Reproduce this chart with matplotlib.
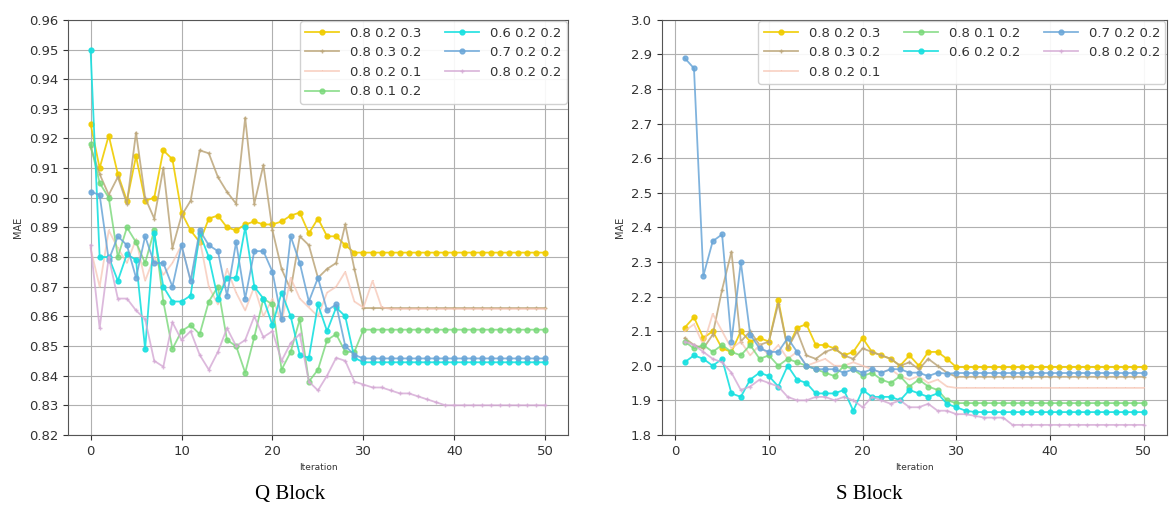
import numpy as np
from matplotlib import pyplot as plt

# Iterations
q_iter = np.arange(0, 51)
s_iter = np.arange(1, 51)

labels = ['0.8 0.2 0.3', '0.8 0.3 0.2', '0.8 0.2 0.1', '0.8 0.1 0.2',
          '0.6 0.2 0.2', '0.7 0.2 0.2', '0.8 0.2 0.2']

# Q Block MAE (first values then flat tail)
q_823 = [0.925, 0.910, 0.921, 0.908, 0.899, 0.914, 0.899, 0.900, 0.916, 0.913,
         0.895, 0.889, 0.885, 0.893, 0.894, 0.890, 0.889, 0.891, 0.892, 0.891,
         0.891, 0.892, 0.894, 0.895, 0.888, 0.893, 0.887, 0.887, 0.884] + [0.8815] * 22
q_832 = [0.917, 0.908, 0.901, 0.907, 0.898, 0.922, 0.900, 0.893, 0.910, 0.883,
         0.894, 0.899, 0.916, 0.915, 0.907, 0.902, 0.898, 0.927, 0.898, 0.911,
         0.889, 0.876, 0.869, 0.887, 0.884, 0.873, 0.876, 0.878, 0.891, 0.876] + [0.8628] * 21
q_821 = [0.883, 0.870, 0.889, 0.883, 0.878, 0.886, 0.872, 0.880, 0.874, 0.878,
         0.884, 0.872, 0.886, 0.870, 0.864, 0.876, 0.868, 0.862, 0.870, 0.860,
         0.866, 0.858, 0.873, 0.866, 0.863, 0.860, 0.868, 0.870, 0.875, 0.865,
         0.863, 0.872, 0.863] + [0.8625] * 18
q_812 = [0.918, 0.905, 0.900, 0.880, 0.890, 0.885, 0.878, 0.889, 0.865, 0.849,
         0.855, 0.857, 0.854, 0.865, 0.870, 0.852, 0.850, 0.841, 0.853, 0.866,
         0.864, 0.842, 0.848, 0.859, 0.838, 0.842, 0.852, 0.854, 0.848, 0.848] + [0.8555] * 21
q_622 = [0.950, 0.880, 0.880, 0.872, 0.881, 0.879, 0.849, 0.888, 0.870, 0.865,
         0.865, 0.867, 0.888, 0.880, 0.866, 0.873, 0.873, 0.890, 0.870, 0.866,
         0.857, 0.868, 0.860, 0.847, 0.846, 0.864, 0.855, 0.863, 0.860, 0.846] + [0.8445] * 21
q_722 = [0.902, 0.901, 0.879, 0.887, 0.884, 0.873, 0.887, 0.878, 0.878, 0.870,
         0.884, 0.872, 0.889, 0.884, 0.882, 0.867, 0.885, 0.866, 0.882, 0.882,
         0.875, 0.859, 0.887, 0.878, 0.865, 0.873, 0.862, 0.864, 0.850, 0.847] + [0.8458] * 21
q_822 = [0.884, 0.856, 0.880, 0.866, 0.866, 0.862, 0.859, 0.845, 0.843, 0.858,
         0.852, 0.855, 0.847, 0.842, 0.848, 0.856, 0.850, 0.852, 0.860, 0.853,
         0.855, 0.845, 0.851, 0.854, 0.838, 0.835, 0.840, 0.846, 0.845, 0.838,
         0.837, 0.836, 0.836, 0.835, 0.834, 0.834, 0.833, 0.832, 0.831] + [0.830] * 12

# S Block MAE
s_823 = [2.11, 2.14, 2.08, 2.10, 2.05, 2.04, 2.10, 2.07, 2.08, 2.07,
         2.19, 2.05, 2.11, 2.12, 2.06, 2.06, 2.05, 2.03, 2.04, 2.08,
         2.04, 2.03, 2.02, 2.00, 2.03, 2.00, 2.04, 2.04, 2.02] + [1.996] * 21
s_832 = [2.08, 2.06, 2.05, 2.09, 2.22, 2.33, 2.07, 2.10, 2.06, 2.07,
         2.18, 2.05, 2.10, 2.03, 2.02, 2.04, 2.05, 2.03, 2.02, 2.05,
         2.04, 2.03, 2.02, 2.00, 2.01, 1.99, 2.02, 2.00, 1.98] + [1.968] * 21
s_821 = [2.10, 2.12, 2.06, 2.15, 2.10, 2.05, 2.07, 2.03, 2.06, 2.03,
         2.06, 2.02, 2.04, 2.00, 2.01, 2.02, 2.00, 2.00, 2.01, 2.00,
         1.99, 1.98, 1.99, 1.97, 1.96, 1.97, 1.95, 1.96, 1.94] + [1.936] * 21
s_812 = [2.07, 2.05, 2.06, 2.04, 2.06, 2.04, 2.03, 2.06, 2.02, 2.03,
         2.00, 2.02, 2.01, 2.00, 1.99, 1.98, 1.97, 2.00, 1.99, 1.97,
         1.98, 1.96, 1.95, 1.97, 1.94, 1.96, 1.94, 1.93, 1.90] + [1.892] * 21
s_622 = [2.01, 2.03, 2.02, 2.00, 2.02, 1.92, 1.91, 1.96, 1.98, 1.97,
         1.94, 2.00, 1.96, 1.95, 1.92, 1.92, 1.92, 1.93, 1.87, 1.93,
         1.91, 1.91, 1.91, 1.90, 1.93, 1.92, 1.91, 1.92, 1.89, 1.88,
         1.87] + [1.866] * 19
s_722 = [2.89, 2.86, 2.26, 2.36, 2.38, 2.07, 2.30, 2.09, 2.05, 2.04,
         2.04, 2.08, 2.04, 2.00, 1.99, 1.99, 1.99, 1.98, 1.99, 1.98,
         1.99, 1.98, 1.99, 1.99, 1.98, 1.98, 1.97, 1.98, 1.977] + [1.979] * 21
s_822 = [2.07, 2.06, 2.04, 2.02, 2.01, 1.98, 1.93, 1.94, 1.96, 1.95,
         1.94, 1.91, 1.90, 1.90, 1.91, 1.91, 1.90, 1.91, 1.90, 1.88,
         1.91, 1.90, 1.89, 1.90, 1.88, 1.88, 1.89, 1.87, 1.87, 1.86,
         1.86, 1.855, 1.85, 1.85, 1.85] + [1.829] * 15

q_series = [q_823, q_832, q_821, q_812, q_622, q_722, q_822]
s_series = [s_823, s_832, s_821, s_812, s_622, s_722, s_822]

colors = ['#f0cc00', '#bca67a', '#f6c2b0', '#78d878', '#18e0e0', '#6aa6d8', '#d4a8d4']
markers = ['o', '+', ',', 'o', 'o', 'o', '+']
alphas = [0.9, 0.85, 0.7, 0.8, 0.9, 0.85, 0.8]

plt.rcParams['text.color'] = '#333333'
plt.rcParams['xtick.color'] = '#333333'
plt.rcParams['ytick.color'] = '#333333'
plt.rcParams['axes.labelcolor'] = '#333333'

fig = plt.figure(figsize=(11.69, 5.24), dpi=100)
ax1 = fig.add_axes([0.058, 0.170, 0.428, 0.792])
ax2 = fig.add_axes([0.566, 0.170, 0.432, 0.792])

for ax, x, series in [(ax1, q_iter, q_series), (ax2, s_iter, s_series)]:
    for y, lab, c, m, a in zip(series, labels, colors, markers, alphas):
        ax.plot(x, y, color=c, marker=m, markersize=3.5, linewidth=1.3,
                alpha=a, label=lab)
    ax.grid(True, color='#b0b0b0', linewidth=0.8)
    ax.set_axisbelow(True)
    ax.set_xlabel('Iteration', fontsize=6.5)
    ax.set_ylabel('MAE', fontsize=7)
    ax.set_xticks([0, 10, 20, 30, 40, 50])
    ax.tick_params(labelsize=9.5)
    for s in ax.spines.values():
        s.set_color('#555555')

ax1.set_ylim(0.82, 0.96)
ax1.set_yticks(np.arange(0.82, 0.9601, 0.01))
ax1.yaxis.set_major_formatter(plt.FormatStrFormatter('%.2f'))
ax2.set_ylim(1.8, 3.0)
ax2.set_yticks(np.arange(1.8, 3.001, 0.1))
ax2.yaxis.set_major_formatter(plt.FormatStrFormatter('%.1f'))

# Legends
leg_kw = dict(loc='upper right', fontsize=9.5, framealpha=0.9, borderaxespad=0.1,
              handlelength=2.6, columnspacing=1.8, labelspacing=0.5)
ax1.legend(ncol=2, **leg_kw)
ax2.legend(ncol=3, **leg_kw)

fig.text(0.248, 0.057, 'Q Block', ha='center', va='center',
         family='Liberation Serif', fontsize=15, color='black')
fig.text(0.744, 0.057, 'S Block', ha='center', va='center',
         family='Liberation Serif', fontsize=15, color='black')

plt.savefig('out.png', dpi=100)
